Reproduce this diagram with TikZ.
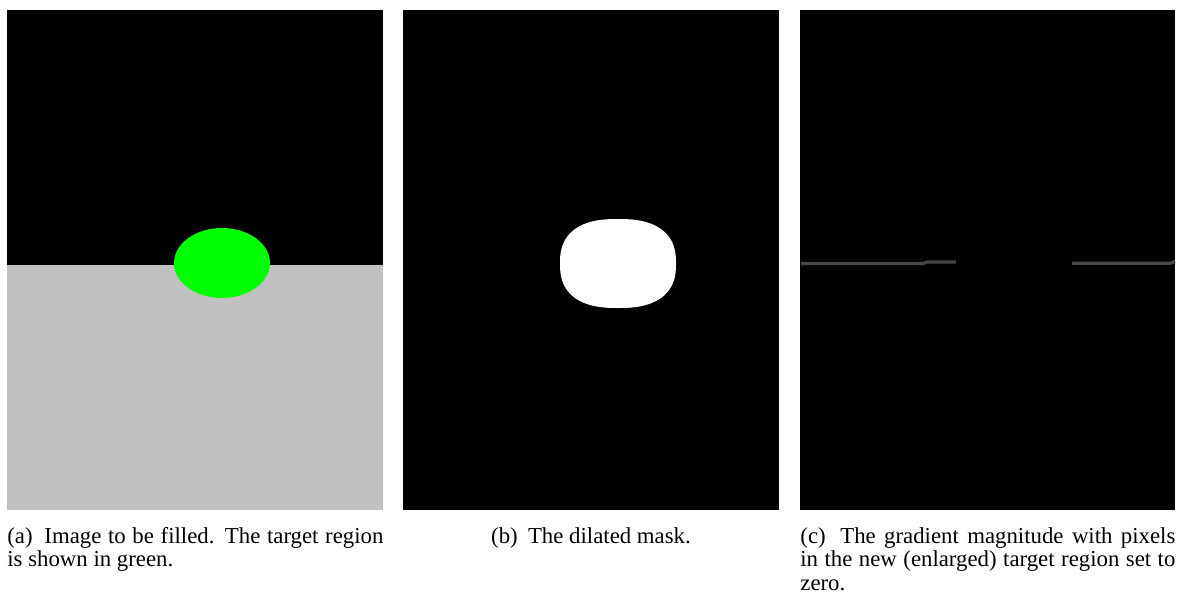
\documentclass[tikz,border=0pt]{standalone}
\usepackage{fontspec}
\setmainfont{Liberation Serif}
\newcommand{\lblgap}{\hskip 0.45em plus 0.2em\relax}
\tikzset{
  panel/.style={fill=black},
  gradline/.style={draw=black!72, line width=1.6pt},
  caption/.style={inner sep=0pt, font=\fontsize{11.4pt}{11.75pt}\selectfont, anchor=base west}
}
\begin{document}
\begin{tikzpicture}[x=0.5pt,y=-0.5pt]
\useasboundingbox (0,0) rectangle (1183,605);
% panel (a)
\fill[black] (7,10) rectangle (383,265);
\fill[fill={rgb,255:red,192;green,192;blue,192}] (7,265) rectangle (383,510);
\fill[fill={rgb,255:red,0;green,255;blue,0}] (222,263) ellipse [x radius=24pt, y radius=17.5pt];
% panel (b)
\fill[panel] (403,10) rectangle (779,510);
\fill[white]
  plot[domain=0.1:89.9, samples=40] ({618+58*pow(cos(\x),0.8)},{263.5-44.5*pow(sin(\x),0.8)})
  -- plot[domain=89.9:0.1, samples=40] ({618-58*pow(cos(\x),0.8)},{263.5-44.5*pow(sin(\x),0.8)})
  -- plot[domain=0.1:89.9, samples=40] ({618-58*pow(cos(\x),0.8)},{263.5+44.5*pow(sin(\x),0.8)})
  -- plot[domain=89.9:0.1, samples=40] ({618+58*pow(cos(\x),0.8)},{263.5+44.5*pow(sin(\x),0.8)})
  -- cycle;
% panel (c)
\fill[panel] (800,10) rectangle (1175,510);
\coordinate (g1) at (801,263.5);
\coordinate (g2) at (923,263.5);
\coordinate (g3) at (927,262);
\coordinate (g4) at (956,262);
\coordinate (g5) at (1072,263.3);
\coordinate (g6) at (1170,263.3);
\coordinate (g7) at (1175,261.5);
\draw[gradline] (g1) -- (g2) -- (g3) -- (g4);
\draw[gradline] (g5) -- (g6) -- (g7);
% captions
\node[caption, text width=188pt, align=justify] (capa) at (7,543)
  {(a)\lblgap Image to be filled.  The target region\linebreak is shown in green.};
\node[caption, anchor=base] (capb) at (591,543) {(b)\lblgap The dilated mask.};
\node[caption, text width=187.5pt, align=justify] (capc) at (800,543)
  {(c)\lblgap The gradient magnitude with pixels\linebreak in the new (enlarged) target region set to\linebreak zero.};
\end{tikzpicture}
\end{document}
